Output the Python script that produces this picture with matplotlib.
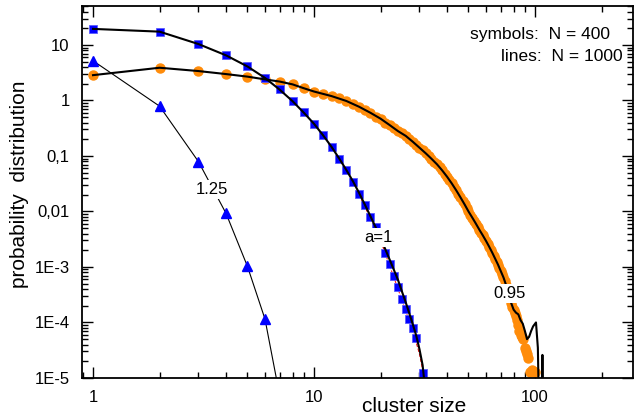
import matplotlib
matplotlib.use("Agg")
import matplotlib.pyplot as plt

plt.rcParams['font.family'] = ['Liberation Sans', 'DejaVu Sans']

# a = 1.25, triangles (N = 400)
x_tri = [1, 2, 3, 4, 5, 6, 7]
y_tri = [5.2, 0.79, 0.079, 0.0092, 0.00102, 0.000115, 4.7e-6]

# a = 1, squares (N = 400)
x_sq = list(range(1, 30)) + [31]
y_sq = [19.5, 17.4, 10.4, 6.6, 4.2, 2.57, 1.58, 0.98, 0.61, 0.38,
        0.236, 0.145, 0.089, 0.056, 0.034, 0.021, 0.0129, 0.0079, 0.0052, 0.0032,
        0.0018, 0.00112, 0.00069, 0.00043, 0.00026, 0.000174, 0.000117, 0.000079, 0.000052,
        0.0000123]

# a = 1, line (N = 1000)
x_sq_line = list(range(1, 33))
y_sq_line = [19.5, 17.4, 10.4, 6.5, 4.1, 2.55, 1.56, 0.97, 0.60, 0.38,
             0.235, 0.146, 0.090, 0.056, 0.035, 0.0215, 0.0132, 0.0082, 0.0052, 0.0033,
             0.0021, 0.00135, 0.00088, 0.00058, 0.00036, 0.00023, 0.000145, 0.000092, 0.000058,
             0.000033, 0.000017, 5e-6]

# a = 1, red dashed
x_red = [16, 18, 20, 22, 24, 26, 28, 30, 31]
y_red = [0.020, 0.0075, 0.0030, 0.00105, 0.0004, 0.00016, 0.00007, 0.000027, 0.000014]

# a = 0.95, circles (N = 400)
x_circ = list(range(1, 89)) + [90, 91, 92, 93, 95, 97, 99, 100]
y_circ = [2.86, 3.89, 3.39, 2.99, 2.69, 2.40, 2.19, 1.95, 1.66, 1.45,
          1.30, 1.20, 1.09, 0.98, 0.87, 0.77, 0.68, 0.59, 0.51, 0.47,
          0.40, 0.36, 0.32, 0.28, 0.26, 0.23, 0.20, 0.18, 0.16, 0.141,
          0.126, 0.112, 0.100, 0.089, 0.079, 0.0708, 0.0624, 0.055, 0.0481, 0.0422,
          0.0367, 0.032, 0.0277, 0.024, 0.0207, 0.0179, 0.0155, 0.0134, 0.01156, 0.0100,
          0.00881, 0.00776, 0.00684, 0.00603, 0.00531, 0.00468, 0.00417, 0.00372, 0.00331, 0.00295,
          0.00261, 0.00232, 0.00205, 0.00182, 0.0016, 0.00141, 0.00124, 0.0011, 0.00096, 0.00084,
          0.00074, 0.000646, 0.00055, 0.000468, 0.000394, 0.000331, 0.000272, 0.000224, 0.00019, 0.000166,
          0.000148, 0.00013, 0.00011, 0.000089, 0.000071, 0.00006, 0.000055, 0.00005,
          0.000035, 0.00003, 0.000027, 0.000023, 0.000013, 0.000014, 0.000013, 0.000013]

# a = 0.95, line (N = 1000)
x_circ_line = [1, 2, 3, 4, 5, 6, 7, 8, 9, 10, 12, 14, 16, 18, 20, 22, 24, 26, 28, 30,
               32, 34, 36, 38, 40, 42, 44, 46, 48, 50, 52, 54, 56, 58, 60, 62, 64, 66, 68, 70,
               72, 74, 76, 78, 80, 82, 84, 86, 88, 90, 92, 94, 96, 98, 101, 103, 104, 107, 108, 109]
y_circ_line = [2.86, 3.89, 3.39, 2.99, 2.69, 2.40, 2.19, 1.95, 1.66, 1.45, 1.20, 0.98, 0.77, 0.60, 0.47,
               0.36, 0.28, 0.23, 0.18, 0.141, 0.112, 0.089, 0.0708, 0.055, 0.0422, 0.032, 0.024, 0.0179,
               0.0134, 0.0100, 0.00776, 0.00603, 0.00468, 0.00372, 0.00295, 0.00232, 0.00182, 0.00141,
               0.0011, 0.00084, 0.000646, 0.000468, 0.000331, 0.000224, 0.00017, 0.00015, 0.00014,
               0.00011, 0.000095, 0.00007, 0.00005, 0.000055, 0.00007, 0.000085, 0.0001, 0.000035,
               4e-6, 4e-6, 0.000026, 4e-6]

y_ticks = [10, 1, 0.1, 0.01, 1e-3, 1e-4, 1e-5]
y_ticklabels = ["10", "1", "0,1", "0,01", "1E-3", "1E-4", "1E-5"]
x_ticks = [1, 10, 100]
x_ticklabels = ["1", "10", "100"]

fig = plt.figure(figsize=(6.36, 4.19), dpi=100)
ax = fig.add_axes([0.129, 0.098, 0.866, 0.888])
ax.set_xscale('log')
ax.set_yscale('log')

ax.plot(x_circ, y_circ, 'o', color='#ff8c0a', ms=6.5, mec='#ff8c0a', zorder=2)
ax.plot(x_circ_line, y_circ_line, '-', color='black', lw=1.5, zorder=3)

ax.plot(x_red, y_red, '--', color='red', lw=0.7, zorder=1)
ax.plot(x_sq, y_sq, 's', color='#0000ff', ms=5.2, mec='#5a5aff', mew=0.6, zorder=2)
ax.plot(x_sq_line, y_sq_line, '-', color='black', lw=1.5, zorder=3)

ax.plot(x_tri, y_tri, '-', color='black', lw=0.8, zorder=2)
ax.plot(x_tri, y_tri, '^', color='#0000ff', ms=6.5, ls='none', zorder=3)

box = dict(facecolor='white', edgecolor='none', pad=1.5)
ax.text(3.45, 0.0249, "1.25", fontsize=12, ha='center', va='center', bbox=box, zorder=5)
ax.text(19.5, 0.0034, "a=1", fontsize=12, ha='center', va='center', bbox=box, zorder=5)
ax.text(77, 3.3e-4, "0.95", fontsize=12, ha='center', va='center', bbox=box, zorder=5)

ax.set_xlim(0.892, 277)
ax.set_ylim(1e-5, 50.7)
ax.set_xticks(x_ticks)
ax.set_xticklabels(x_ticklabels)
ax.set_yticks(y_ticks)
ax.set_yticklabels(y_ticklabels)
ax.tick_params(which='both', direction='in', top=True, right=True, labelsize=12, width=1.0)
ax.tick_params(which='major', length=8)
ax.tick_params(which='minor', length=4)
ax.tick_params(axis='x', pad=9)
ax.tick_params(axis='y', pad=9)
for s in ax.spines.values():
    s.set_linewidth(1.3)

fig.text(0.651, 0.029, "cluster size", fontsize=15, ha='center', va='center')
fig.text(0.03, 0.56, "probability  distribution", fontsize=15, ha='center', va='center',
         rotation=90)
fig.text(0.959, 0.9165, "symbols:  N = 400", fontsize=12.5, ha='right', va='center')
fig.text(0.9796, 0.864, "lines:  N = 1000", fontsize=12.5, ha='right', va='center')

fig.savefig("out.png", dpi=100)
